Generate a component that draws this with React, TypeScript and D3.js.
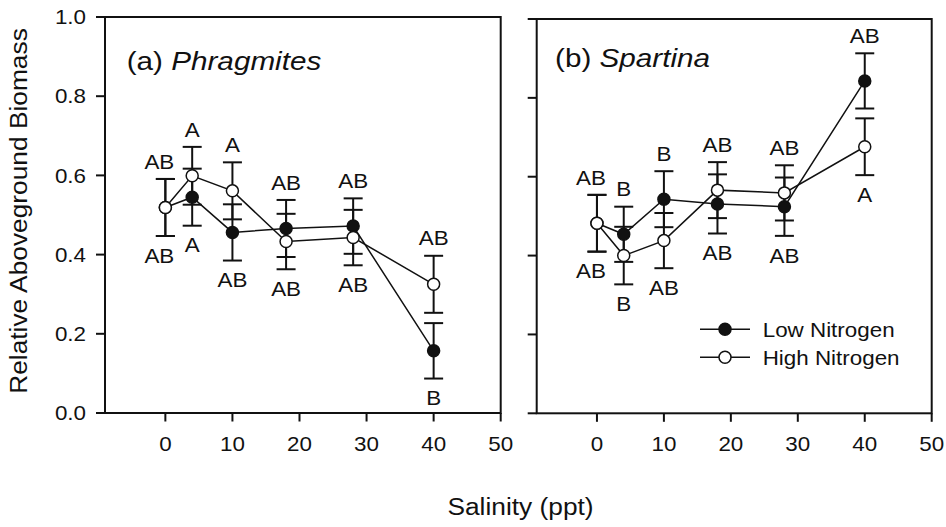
import React from "react";
import * as d3 from "d3";

// ---- data ----
const salinity = [0, 4, 10, 18, 28, 40];
const xTicks = [0, 10, 20, 30, 40, 50];
const yTicks = [0, 0.2, 0.4, 0.6, 0.8, 1.0];

const phragLow = [0.519, 0.545, 0.456, 0.466, 0.472, 0.157];
const phragLowSE = [0.072, 0.072, 0.071, 0.072, 0.07, 0.07];
const phragHigh = [0.519, 0.599, 0.561, 0.433, 0.443, 0.325];
const phragHighSE = [0.072, 0.073, 0.072, 0.07, 0.07, 0.072];
const phragTopLetters = ["AB", "A", "A", "AB", "AB", "AB"];
const phragBottomLetters = ["AB", "A", "AB", "AB", "AB", "B"];

const spartLow = [0.482, 0.454, 0.543, 0.531, 0.524, 0.843];
const spartLowSE = [0.072, 0.07, 0.071, 0.075, 0.074, 0.07];
const spartHigh = [0.482, 0.4, 0.438, 0.566, 0.559, 0.676];
const spartHighSE = [0.072, 0.073, 0.07, 0.071, 0.07, 0.072];
const spartTopLetters = ["AB", "B", "B", "AB", "AB", "AB"];
const spartBottomLetters = ["AB", "B", "AB", "AB", "AB", "A"];

const seriesNames = ["Low Nitrogen", "High Nitrogen"];
const yTitle = "Relative Aboveground Biomass";
const xTitle = "Salinity (ppt)";

const FONT = "'Liberation Sans', Arial, Helvetica, sans-serif";
const SX = 1.12;
const INK = "#111";

function T({ x, y, size, anchor = "start", rotate = 0, children }: any) {
  return (
    <text
      transform={`translate(${x},${y}) rotate(${rotate}) scale(${SX},1)`}
      fontSize={size}
      fontFamily={FONT}
      textAnchor={anchor}
      fill={INK}
    >
      {children}
    </text>
  );
}

const panels = [
  {
    label: "(a) ",
    species: "Phragmites",
    low: phragLow,
    lowSE: phragLowSE,
    high: phragHigh,
    highSE: phragHighSE,
    top: phragTopLetters,
    bottom: phragBottomLetters,
    x0: 105,
    x1: 500.7,
    y0: 413,
    y1: 17,
    yLabels: true,
    titleX: 126.7,
    titleY: 69.5,
    legend: false,
  },
  {
    label: "(b) ",
    species: "Spartina",
    low: spartLow,
    lowSE: spartLowSE,
    high: spartHigh,
    highSE: spartHighSE,
    top: spartTopLetters,
    bottom: spartBottomLetters,
    x0: 536.7,
    x1: 931.7,
    y0: 413.3,
    y1: 19,
    yLabels: false,
    titleX: 555,
    titleY: 67,
    legend: true,
  },
];

function Panel({ p }: any) {
  const x = d3.scaleLinear().domain([-9, 50]).range([p.x0, p.x1]);
  const y = d3.scaleLinear().domain([0, 1]).range([p.y0, p.y1]);
  const line = d3
    .line<number>()
    .x((_, i) => x(salinity[i]))
    .y((d) => y(d));
  const fmt = d3.format(".1f");
  const capW = 9.5;
  const r = 6;

  const errBars = (vals: number[], se: number[], key: string) =>
    vals.map((v, i) => {
      const cx = x(salinity[i]);
      const yt = y(v + se[i]);
      const yb = y(v - se[i]);
      return (
        <g key={key + i} stroke={INK} strokeWidth={2}>
          <line x1={cx} x2={cx} y1={yt} y2={yb} />
          <line x1={cx - capW} x2={cx + capW} y1={yt} y2={yt} />
          <line x1={cx - capW} x2={cx + capW} y1={yb} y2={yb} />
        </g>
      );
    });

  return (
    <g>
      <rect
        x={p.x0}
        y={p.y1}
        width={p.x1 - p.x0}
        height={p.y0 - p.y1}
        fill="none"
        stroke={INK}
        strokeWidth={2}
      />
      {yTicks.map((t) => (
        <g key={"yt" + t}>
          <line x1={p.x0 - 9} x2={p.x0} y1={y(t)} y2={y(t)} stroke={INK} strokeWidth={2} />
          {p.yLabels && (
            <T x={p.x0 - 19} y={y(t) + 7.2} size={20} anchor="end">
              {fmt(t)}
            </T>
          )}
        </g>
      ))}
      {xTicks.map((t) => (
        <g key={"xt" + t}>
          <line x1={x(t)} x2={x(t)} y1={p.y0} y2={p.y0 + 8.5} stroke={INK} strokeWidth={2} />
          <T x={x(t)} y={451} size={20} anchor="middle">
            {t}
          </T>
        </g>
      ))}
      <text
        transform={`translate(${p.titleX},${p.titleY}) scale(${SX},1)`}
        fontSize={26.5}
        fontFamily={FONT}
        fill={INK}
      >
        <tspan>{p.label}</tspan>
        <tspan fontStyle="italic">{p.species}</tspan>
      </text>
      {errBars(p.low, p.lowSE, "el")}
      {errBars(p.high, p.highSE, "eh")}
      <path d={line(p.low) || ""} fill="none" stroke={INK} strokeWidth={1.5} />
      <path d={line(p.high) || ""} fill="none" stroke={INK} strokeWidth={1.5} />
      {p.low.map((v: number, i: number) => (
        <circle key={"ml" + i} cx={x(salinity[i])} cy={y(v)} r={r} fill={INK} stroke={INK} strokeWidth={1.5} />
      ))}
      {p.high.map((v: number, i: number) => (
        <circle key={"mh" + i} cx={x(salinity[i])} cy={y(v)} r={r} fill="#fff" stroke={INK} strokeWidth={1.5} />
      ))}
      {salinity.map((s, i) => {
        const topV = Math.max(p.low[i] + p.lowSE[i], p.high[i] + p.highSE[i]);
        const botV = Math.min(p.low[i] - p.lowSE[i], p.high[i] - p.highSE[i]);
        const nudge = i === 0 ? -6 : 0;
        return (
          <g key={"lt" + i}>
            <T x={x(s) + nudge} y={y(topV) - 17.5 + 7.2} size={20} anchor="middle">
              {p.top[i]}
            </T>
            <T x={x(s) + nudge} y={y(botV) + 19.5 + 7.2} size={20} anchor="middle">
              {p.bottom[i]}
            </T>
          </g>
        );
      })}
      {p.legend &&
        seriesNames.map((n, i) => {
          const ly = 329.3 + i * 28;
          return (
            <g key={"lg" + i}>
              <line x1={700} x2={750} y1={ly} y2={ly} stroke={INK} strokeWidth={1.5} />
              <circle cx={725} cy={ly} r={r} fill={i === 0 ? INK : "#fff"} stroke={INK} strokeWidth={1.5} />
              <T x={762.7} y={ly + 7.3} size={20}>
                {n}
              </T>
            </g>
          );
        })}
    </g>
  );
}

export default function App() {
  return (
    <svg
      width={946}
      height={527}
      style={{ position: "absolute", left: 0, top: 0, background: "#fff" }}
    >
      <rect width={946} height={527} fill="#fff" />
      {panels.map((p, i) => (
        <Panel key={i} p={p} />
      ))}
      <T x={27} y={211} size={23.5} anchor="middle" rotate={-90}>
        {yTitle}
      </T>
      <T x={520.5} y={515} size={23.5} anchor="middle">
        {xTitle}
      </T>
    </svg>
  );
}
